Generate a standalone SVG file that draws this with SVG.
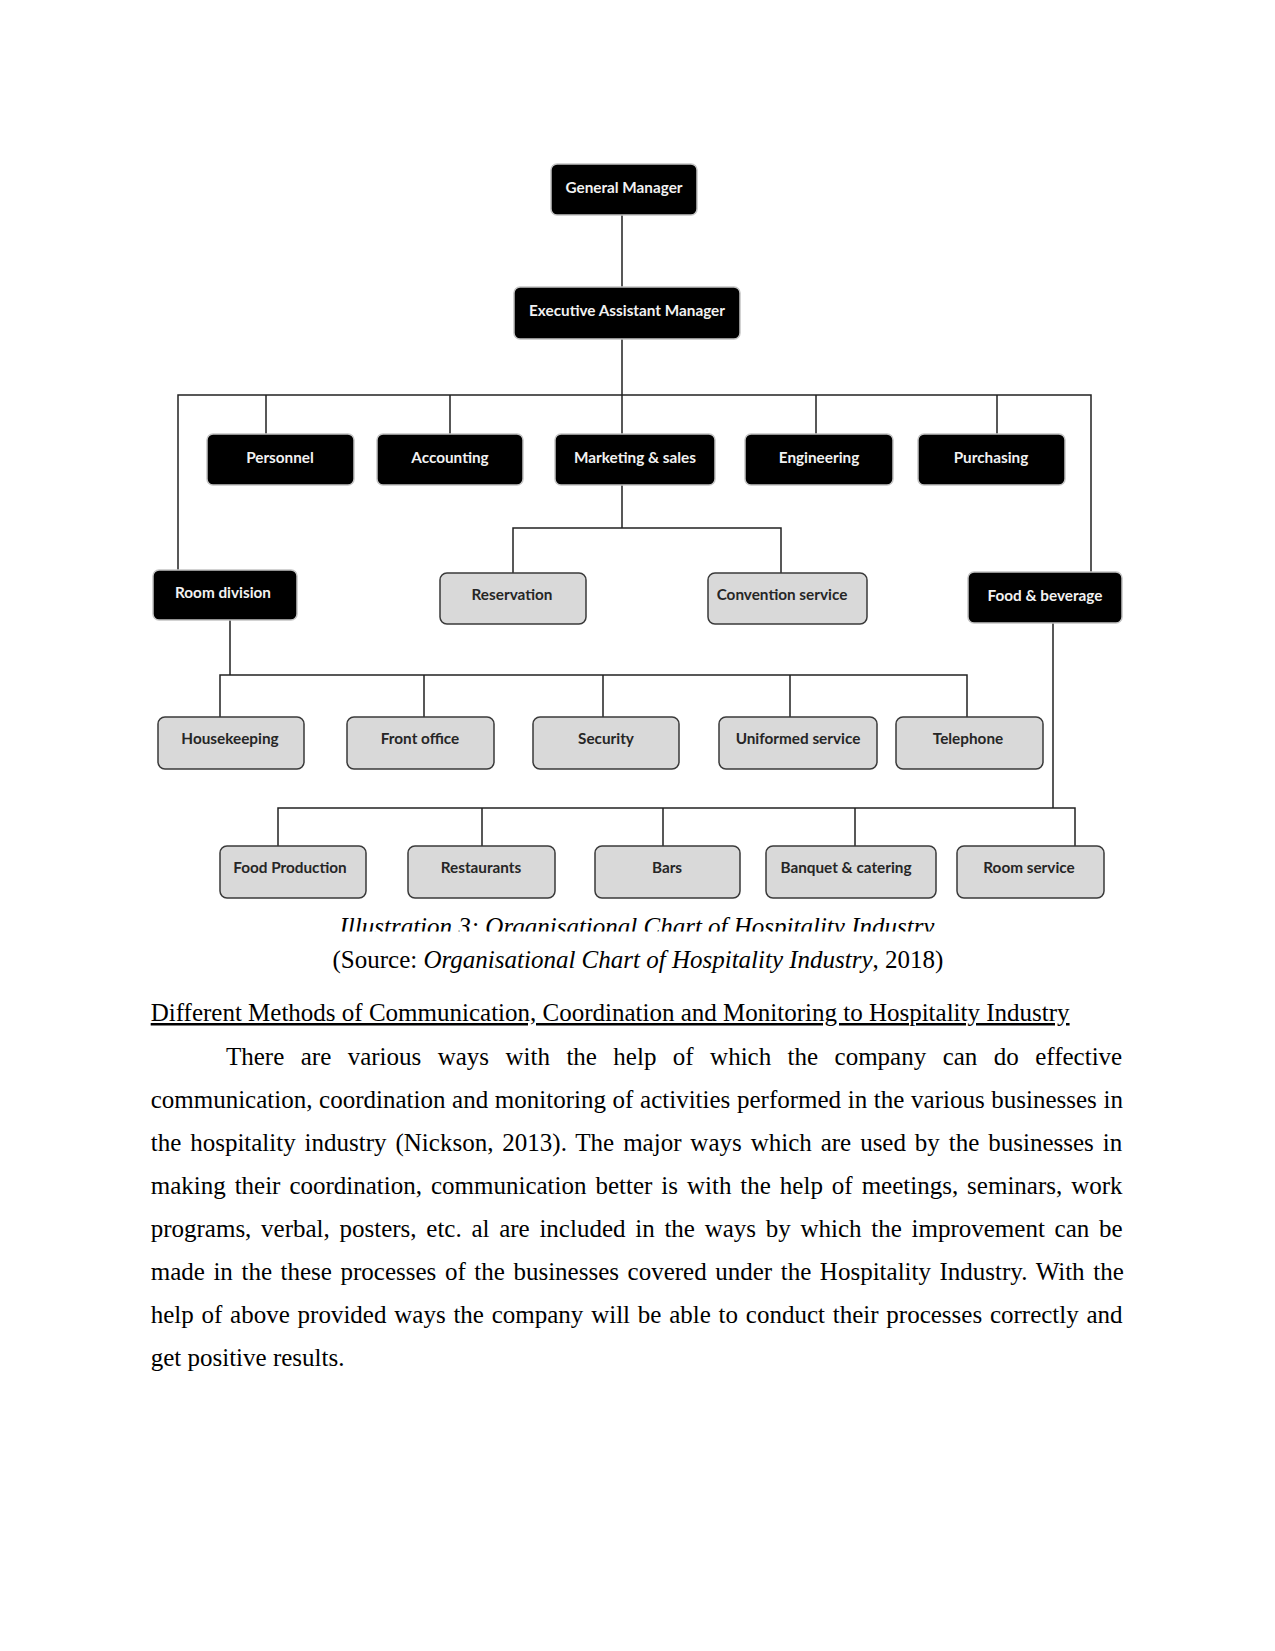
<svg xmlns="http://www.w3.org/2000/svg" width="1275" height="1651" viewBox="0 0 1275 1651">
<style>
.blk{fill:#000;stroke:#c4c4c4;stroke-width:1.5}
.gry{fill:#d9d9d9;stroke:#3a3a3a;stroke-width:1.5}
.lw{font-family:Lato,"Open Sans",sans-serif;font-weight:700;font-size:15.3px;fill:#f2f2f2;text-anchor:middle}
.lg{font-family:Lato,"Open Sans",sans-serif;font-weight:700;font-size:15.3px;fill:#262626;text-anchor:middle}
.con{fill:none;stroke:#222;stroke-width:1.5}
.body{font-family:"Liberation Serif","Times New Roman",serif;font-size:25px;fill:#000}
</style>
<defs>
<clipPath id="capclip"><rect x="0" y="900" width="1275" height="31.5"/></clipPath>
</defs>
<rect width="1275" height="1651" fill="#fff"/>

<g id="connectors" class="con">
<path d="M622 215V287M622 339V434"/>
<path d="M178 570V395H1091V572"/>
<path d="M266 395V434M450 395V434M816 395V434M997 395V434"/>
<path d="M622 485V528M513 573V528H781V573"/>
<path d="M230 620V675M220 717V675H967V717M424 675V717M603 675V717M790 675V717"/>
<path d="M1053 623V808M278 846V808H1075V846M482 808V846M663 808V846M855 808V846"/>
</g>

<g id="general-manager"><rect class="blk" x="551" y="164" width="146" height="51" rx="6"/><text class="lw" x="624" y="193">General Manager</text></g>
<g id="executive-assistant-manager"><rect class="blk" x="514" y="287" width="226" height="52" rx="6"/><text class="lw" x="627" y="316">Executive Assistant Manager</text></g>

<g id="personnel"><rect class="blk" x="207" y="434" width="147" height="51" rx="6"/><text class="lw" x="280" y="463">Personnel</text></g>
<g id="accounting"><rect class="blk" x="377" y="434" width="146" height="51" rx="6"/><text class="lw" x="450" y="463">Accounting</text></g>
<g id="marketing-sales"><rect class="blk" x="555" y="434" width="160" height="51" rx="6"/><text class="lw" x="635" y="463">Marketing &amp; sales</text></g>
<g id="engineering"><rect class="blk" x="745" y="434" width="148" height="51" rx="6"/><text class="lw" x="819" y="463">Engineering</text></g>
<g id="purchasing"><rect class="blk" x="918" y="434" width="147" height="51" rx="6"/><text class="lw" x="991" y="463">Purchasing</text></g>

<g id="room-division"><rect class="blk" x="153" y="570" width="144" height="50" rx="6"/><text class="lw" x="223" y="598">Room division</text></g>
<g id="reservation"><rect class="gry" x="440" y="573" width="146" height="51" rx="7"/><text class="lg" x="512" y="600">Reservation</text></g>
<g id="convention-service"><rect class="gry" x="708" y="573" width="159" height="51" rx="7"/><text class="lg" x="782" y="600">Convention service</text></g>
<g id="food-beverage"><rect class="blk" x="968" y="572" width="154" height="51" rx="6"/><text class="lw" x="1045" y="601">Food &amp; beverage</text></g>

<g id="housekeeping"><rect class="gry" x="158" y="717" width="146" height="52" rx="7"/><text class="lg" x="230" y="744">Housekeeping</text></g>
<g id="front-office"><rect class="gry" x="347" y="717" width="147" height="52" rx="7"/><text class="lg" x="420" y="744">Front office</text></g>
<g id="security"><rect class="gry" x="533" y="717" width="146" height="52" rx="7"/><text class="lg" x="606" y="744">Security</text></g>
<g id="uniformed-service"><rect class="gry" x="719" y="717" width="158" height="52" rx="7"/><text class="lg" x="798" y="744">Uniformed service</text></g>
<g id="telephone"><rect class="gry" x="896" y="717" width="147" height="52" rx="7"/><text class="lg" x="968" y="744">Telephone</text></g>

<g id="food-production"><rect class="gry" x="220" y="846" width="146" height="52" rx="7"/><text class="lg" x="290" y="873">Food Production</text></g>
<g id="restaurants"><rect class="gry" x="408" y="846" width="147" height="52" rx="7"/><text class="lg" x="481" y="873">Restaurants</text></g>
<g id="bars"><rect class="gry" x="595" y="846" width="145" height="52" rx="7"/><text class="lg" x="667" y="873">Bars</text></g>
<g id="banquet-catering"><rect class="gry" x="766" y="846" width="170" height="52" rx="7"/><text class="lg" x="846" y="873">Banquet &amp; catering</text></g>
<g id="room-service"><rect class="gry" x="957" y="846" width="147" height="52" rx="7"/><text class="lg" x="1029" y="873">Room service</text></g>

<text class="body" x="637" y="935" font-size="24.4" font-style="italic" text-anchor="middle" clip-path="url(#capclip)">Illustration 3: Organisational Chart of Hospitality Industry</text>
<text class="body" x="638" y="968" text-anchor="middle">(Source: <tspan font-style="italic">Organisational Chart of Hospitality Industry</tspan>, 2018)</text>
<text class="body" x="150.7" y="1021" text-decoration="underline">Different Methods of Communication, Coordination and Monitoring to Hospitality Industry</text>

<text class="body" x="226" y="1065" word-spacing="10.18">There are various ways with the help of which the company can do effective</text>
<text class="body" x="150.7" y="1108" word-spacing="0.4">communication, coordination and monitoring of activities performed in the various businesses in</text>
<text class="body" x="150.7" y="1151" word-spacing="2.67">the hospitality industry (Nickson, 2013). The major ways which are used by the businesses in</text>
<text class="body" x="150.7" y="1194" word-spacing="2.71">making their coordination, communication better is with the help of meetings, seminars, work</text>
<text class="body" x="150.7" y="1237" word-spacing="3.47">programs, verbal, posters, etc. al are included in the ways by which the improvement can be</text>
<text class="body" x="150.7" y="1280" word-spacing="2.33">made in the these processes of the businesses covered under the Hospitality Industry. With the</text>
<text class="body" x="150.7" y="1323" word-spacing="1.53">help of above provided ways the company will be able to conduct their processes correctly and</text>
<text class="body" x="150.7" y="1366">get positive results.</text>
</svg>
